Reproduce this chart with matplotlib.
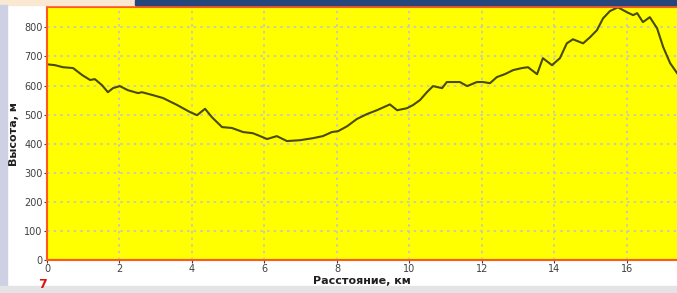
import matplotlib
matplotlib.use('Agg')
import matplotlib.pyplot as plt
from matplotlib.patches import Rectangle

# distance (km) and elevation (m) read from the profile
distance_km = [0.00, 0.22, 0.44, 0.72, 0.97, 1.19, 1.32, 1.52, 1.68, 1.82,
               2.01, 2.23, 2.51, 2.62, 2.92, 3.20, 3.59, 3.94, 4.14, 4.36,
               4.55, 4.83, 5.10, 5.41, 5.68, 5.88, 6.07, 6.34, 6.62, 6.98,
               7.34, 7.61, 7.86, 8.03, 8.28, 8.55, 8.83, 9.10, 9.46, 9.66,
               9.93, 10.10, 10.29, 10.48, 10.65, 10.90, 11.03, 11.20, 11.39, 11.59,
               11.86, 12.03, 12.22, 12.41, 12.63, 12.86, 13.10, 13.27, 13.52, 13.68,
               13.93, 14.15, 14.34, 14.51, 14.79, 14.98, 15.17, 15.34, 15.53, 15.75,
               16.00, 16.17, 16.28, 16.44, 16.63, 16.83, 17.00, 17.19, 17.38]
elevation_m = [673, 670, 663, 660, 636, 619, 622, 601, 577, 591,
               598, 584, 574, 577, 567, 557, 533, 509, 498, 520,
               491, 457, 454, 440, 436, 426, 416, 426, 409, 412,
               419, 426, 440, 443, 460, 485, 502, 515, 535, 515,
               522, 533, 550, 577, 598, 591, 612, 612, 612, 598,
               612, 612, 608, 629, 639, 653, 660, 663, 639, 694,
               670, 694, 745, 759, 745, 766, 790, 831, 856, 869,
               852, 842, 849, 818, 835, 797, 732, 677, 643]

x_ticks = [0, 2, 4, 6, 8, 10, 12, 14, 16]
y_ticks = [0, 100, 200, 300, 400, 500, 600, 700, 800]

fig = plt.figure(figsize=(6.77, 2.93), dpi=100)
fig.patch.set_facecolor('white')

# bits of the surrounding window
fig.patches.append(Rectangle((0, 0.983), 0.2, 0.017, transform=fig.transFigure,
                             color='#fbe8d3', zorder=0))
fig.patches.append(Rectangle((0.2, 0.983), 0.8, 0.017, transform=fig.transFigure,
                             color='#27477a', zorder=0))
fig.patches.append(Rectangle((0, 0), 0.011, 0.983, transform=fig.transFigure,
                             color='#cdd1e3', zorder=0))
fig.patches.append(Rectangle((0, 0), 1, 0.025, transform=fig.transFigure,
                             color='#e4e4e8', zorder=0))

ax = fig.add_axes([0.0694, 0.1126, 0.9306, 0.8635])
ax.set_facecolor('#ffff00')
ax.plot(distance_km, elevation_m, color='#4a4a00', linewidth=1.5)

ax.set_xlim(0, 17.38)
ax.set_ylim(0, 870)
ax.set_xticks(x_ticks)
ax.set_yticks(y_ticks)
ax.grid(True, color='#c4c4c4', linestyle=(0, (1.5, 2.5)), linewidth=1.2)

for side in ['left', 'bottom', 'top']:
    ax.spines[side].set_color('#ff5a1e')
    ax.spines[side].set_linewidth(1.5)
ax.spines['right'].set_visible(False)

ax.tick_params(axis='both', labelsize=7, colors='#404040', length=2, width=0.8, pad=1)
ax.set_xlabel('Расстояние, км', fontsize=8, fontweight='bold', color='#202020', labelpad=1)
ax.set_ylabel('Высота, м', fontsize=8, fontweight='bold', color='#202020', labelpad=4)

fig.text(0.056, 0.008, '7', color='#e01010', fontsize=9, fontweight='bold', va='bottom')

fig.savefig('out.png', dpi=100, facecolor=fig.get_facecolor())
